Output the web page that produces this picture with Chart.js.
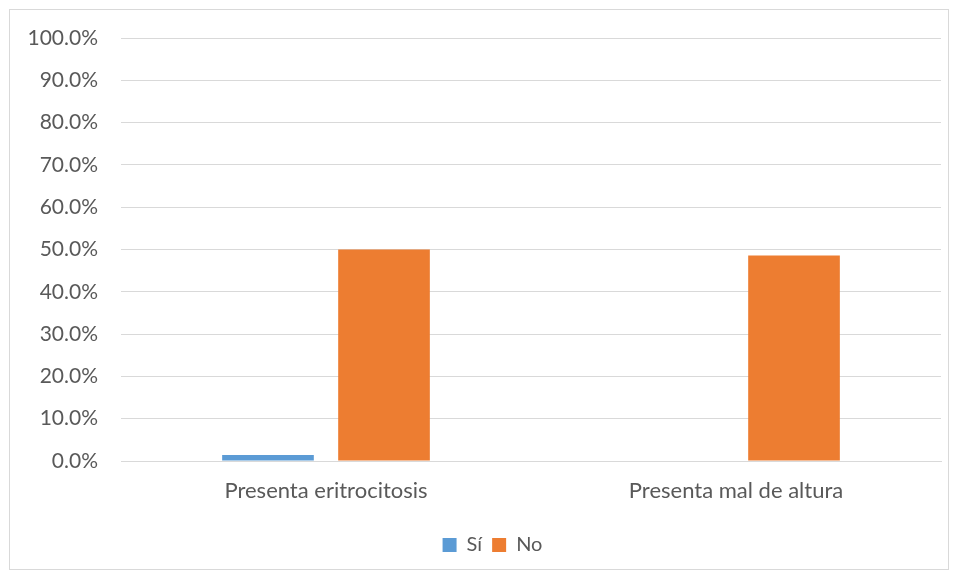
<!DOCTYPE html>
<html>
<head>
<meta charset="utf-8">
<script src="https://cdn.jsdelivr.net/npm/chart.js@4"></script>
<style>
    body { margin: 0; background: #fff; }
    #frame {
        position: absolute;
        left: 9px;
        top: 9px;
        width: 938px;
        height: 559px;
        border: 1px solid #d9d9d9;
    }
</style>
</head>
<body>
<div id="frame"><canvas id="chart"></canvas></div>
<script>
const categories = ['Presenta eritrocitosis', 'Presenta mal de altura'];
const siValues = [1.4, 0];
const noValues = [50.0, 48.6];
const seriesNames = ['Sí', 'No'];

const textColor = '#595959';
const gridColor = '#d9d9d9';
const fontFamily = 'Lato, "Open Sans", sans-serif';

// Excel puts the legend a little right of the canvas centre
const legendShift = {
    id: 'legendShift',
    afterLayout(chart) {
        chart.legend.left += 17;
        chart.legend.right += 17;
    }
};

document.addEventListener('DOMContentLoaded', () => {
    const ctx = document.getElementById('chart').getContext('2d');

    new Chart(ctx, {
        type: 'bar',
        data: {
            labels: categories,
            datasets: [
                {
                    label: seriesNames[0],
                    data: siValues,
                    backgroundColor: '#5b9bd5'
                },
                {
                    label: seriesNames[1],
                    data: noValues,
                    backgroundColor: '#ed7d31'
                }
            ]
        },
        options: {
            responsive: true,
            maintainAspectRatio: false,
            animation: false,
            categoryPercentage: 0.566,
            barPercentage: 0.79,
            layout: {
                padding: { left: 0, right: 7, top: 28, bottom: 4 }
            },
            plugins: {
                tooltip: { enabled: false },
                legend: {
                    position: 'bottom',
                    labels: {
                        boxWidth: 14,
                        boxHeight: 14,
                        padding: 10,
                        color: textColor,
                        font: { family: fontFamily, size: 20 }
                    }
                }
            },
            scales: {
                x: {
                    grid: { display: false, drawTicks: false },
                    border: { color: gridColor, width: 1 },
                    ticks: {
                        color: textColor,
                        padding: 17,
                        font: { family: fontFamily, size: 22 }
                    },
                    afterFit: (scale) => { scale.height = 64; }
                },
                y: {
                    min: 0,
                    max: 100,
                    grid: { color: gridColor, lineWidth: 1, drawTicks: false },
                    border: { display: false },
                    ticks: {
                        stepSize: 10,
                        color: textColor,
                        padding: 23,
                        font: { family: fontFamily, size: 21 },
                        callback: (v) => v.toFixed(1) + '%'
                    },
                    afterFit: (scale) => {
                        scale.width = 111;
                        scale.paddingTop = 0;
                    }
                }
            }
        },
        plugins: [legendShift]
    });
});
</script>
</body>
</html>
